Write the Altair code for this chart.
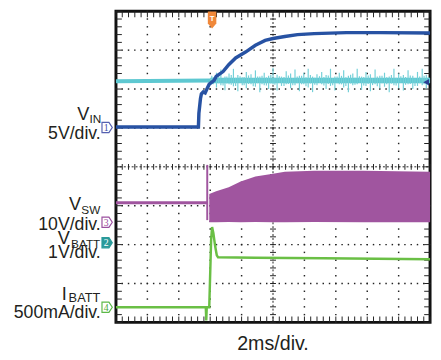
import altair as alt
import numpy as np
import pandas as pd

W, H = 320, 317
XS = alt.Scale(domain=[0, 10], nice=False, zero=False)
YS = alt.Scale(domain=[0, 8], nice=False, zero=False)
FONT = "Liberation Sans"
TXT = "#231f20"

# ---- traces, in screen divisions (x: 2 ms/div, y: divisions above bottom graticule) ----
vin_t = [0.0, 2.625, 2.64, 2.69, 2.72, 2.78, 2.84, 2.91, 2.97, 3.125, 3.19, 3.41, 3.59, 3.81,
         4.125, 4.44, 4.75, 5.0, 5.375, 5.78, 6.31, 7.34, 8.4, 10.0]
vin_v = [5.025, 5.025, 5.375, 5.75, 5.875, 5.925, 5.9, 6.025, 6.125, 6.225, 6.325, 6.45, 6.625, 6.8,
         6.95, 7.125, 7.25, 7.3, 7.35, 7.4, 7.425, 7.45, 7.45, 7.44]

vbatt_t = [0.0, 3.0, 10.0]
vbatt_v = [6.2, 6.22, 6.22]
spike_t = [3.05, 3.2, 3.34, 3.47, 3.6, 3.74, 3.88, 4.02, 4.15, 4.3, 4.44, 4.58, 4.72, 4.86, 5.0,
           5.13, 5.27, 5.42, 5.56, 5.7, 5.84, 5.98, 6.12, 6.26, 6.4, 6.55, 6.69, 6.83, 6.97, 7.11,
           7.25, 7.4, 7.54, 7.68, 7.82, 7.96, 8.1, 8.25, 8.4, 8.55, 8.7, 8.85, 9.0, 9.15, 9.3,
           9.45, 9.6, 9.75, 9.88]
spike_hi = [0.12, 0.2, 0.28, 0.1, 0.18, 0.3, 0.14, 0.08, 0.22, 0.16, 0.26, 0.1, 0.2, 0.12, 0.32,
            0.15, 0.1, 0.24, 0.18, 0.28, 0.12, 0.2, 0.3, 0.1, 0.16, 0.22, 0.14, 0.3, 0.1, 0.2,
            0.26, 0.12, 0.18, 0.3, 0.1, 0.22, 0.16, 0.28, 0.12, 0.2, 0.1, 0.3, 0.18, 0.14, 0.26,
            0.12, 0.22, 0.3, 0.15]
spike_lo = [0.1, 0.18, 0.12, 0.25, 0.1, 0.15, 0.28, 0.12, 0.2, 0.1, 0.16, 0.3, 0.12, 0.22, 0.1,
            0.26, 0.14, 0.1, 0.2, 0.12, 0.28, 0.1, 0.18, 0.3, 0.12, 0.1, 0.22, 0.14, 0.26, 0.1,
            0.18, 0.3, 0.12, 0.1, 0.24, 0.14, 0.28, 0.1, 0.2, 0.16, 0.3, 0.12, 0.2, 0.26, 0.1,
            0.22, 0.14, 0.12, 0.2]
fuzz_t = [3.1, 3.27, 3.41, 3.53, 3.67, 3.81, 3.95, 4.08, 4.22, 4.37, 4.51, 4.65, 4.79, 4.93, 5.06,
          5.2, 5.35, 5.49, 5.63, 5.77, 5.91, 6.05, 6.19, 6.33, 6.48, 6.62, 6.76, 6.9, 7.04, 7.18,
          7.32, 7.47, 7.61, 7.75, 7.89, 8.03, 8.17, 8.32, 8.47, 8.62, 8.77, 8.92, 9.07, 9.22, 9.37,
          9.52, 9.67, 9.81, 9.95]
fuzz_hi = [0.08, 0.12, 0.06, 0.1, 0.14, 0.07, 0.11, 0.09, 0.13, 0.06, 0.1, 0.12, 0.08, 0.15, 0.07,
           0.11, 0.09, 0.13, 0.06, 0.1, 0.12, 0.08, 0.14, 0.07, 0.11, 0.09, 0.13, 0.06, 0.1, 0.12,
           0.08, 0.15, 0.07, 0.11, 0.09, 0.13, 0.06, 0.1, 0.12, 0.08, 0.14, 0.07, 0.11, 0.09, 0.13,
           0.06, 0.1, 0.12, 0.08]
fuzz_lo = [0.1, 0.07, 0.13, 0.08, 0.11, 0.14, 0.06, 0.12, 0.09, 0.15, 0.07, 0.1, 0.13, 0.08, 0.11,
           0.06, 0.14, 0.09, 0.12, 0.07, 0.1, 0.15, 0.08, 0.11, 0.06, 0.13, 0.09, 0.12, 0.07, 0.1,
           0.14, 0.08, 0.11, 0.06, 0.13, 0.09, 0.12, 0.15, 0.07, 0.1, 0.08, 0.13, 0.06, 0.11, 0.09,
           0.14, 0.07, 0.1, 0.12]

vsw_t = [0.0, 2.906]
vsw_v = [3.075, 3.075]
vsw_edge_t = [2.906]
vsw_edge_lo = [2.63]
vsw_edge_hi = [4.05]
sw_t = [2.97, 3.19, 3.59, 3.97, 4.44, 5.0, 5.375, 6.31, 7.875, 10.0]
sw_top = [3.3, 3.375, 3.475, 3.625, 3.75, 3.825, 3.875, 3.9, 3.9, 3.875]
sw_bot = [2.575, 2.575, 2.58, 2.575, 2.58, 2.575, 2.575, 2.58, 2.575, 2.575]

ibatt_t = [0.0, 2.86, 2.875, 2.89, 2.97, 3.03, 3.06, 3.1, 3.16, 3.21, 3.25, 4.44, 6.6, 10.0]
ibatt_v = [0.39, 0.39, 0.05, 0.39, 0.39, 2.125, 2.45, 2.3, 1.95, 1.725, 1.675, 1.66, 1.65, 1.625]

ch_names = ["1", "2", "3", "4"]
ch_level = [5.01, 2.05, 2.575, 0.39]
ch_color = ["#5560b0", "#2a9a9a", "#9b4f9f", "#5cb848"]
ch_fill = ["white", "#2a9a9a", "white", "white"]
ch_text = ["#3f4fa8", "white", "#9b4f9f", "#4aa838"]
trig_t = [3.06]
trig_level = [6.175]

C_BLUE, C_CYAN, C_PURP, C_GREEN = "#2752a3", "#5ec8d1", "#a0559f", "#6abf45"


def X(f="t"):
    return alt.X(f"{f}:Q", scale=XS, axis=None)


def Y(f="v"):
    return alt.Y(f"{f}:Q", scale=YS, axis=None)


layers = []

# ---- graticule ----
minor_x = np.round(np.arange(0, 10.0001, 0.2), 2)
minor_y = np.round(np.arange(0, 8.0001, 0.2), 2)
dots = [(gx, yy) for gx in [1, 2, 3, 4, 6, 7, 8, 9] for yy in minor_y] + \
       [(xx, gy) for gy in [1, 2, 3, 5, 6, 7] for xx in minor_x]
dots_df = pd.DataFrame(dots, columns=["t", "v"])
layers.append(alt.Chart(dots_df).mark_square(size=2.2, color="#222", opacity=1).encode(x=X(), y=Y()))

layers.append(alt.Chart(pd.DataFrame({"t": [5], "v": [0], "v2": [8]})).mark_rule(
    color="#222", strokeWidth=1, strokeDash=[2, 2]).encode(x=X(), y=Y(), y2="v2:Q"))
layers.append(alt.Chart(pd.DataFrame({"t": [0], "t2": [10], "v": [4]})).mark_rule(
    color="#222", strokeWidth=1, strokeDash=[2, 2]).encode(x=X(), x2="t2:Q", y=Y()))

hx = pd.DataFrame({"t": minor_x})
vy = pd.DataFrame({"v": minor_y})
tick_kw = dict(thickness=1, color="#222", opacity=1)
# ticks on the centre lines
layers.append(alt.Chart(hx).mark_tick(orient="vertical", size=6, **tick_kw).encode(
    x=X(), y=alt.Y("c:Q", scale=YS, axis=None)).transform_calculate(c="4"))
layers.append(alt.Chart(vy).mark_tick(orient="horizontal", size=6, **tick_kw).encode(
    y=Y(), x=alt.X("c:Q", scale=XS, axis=None)).transform_calculate(c="5"))
# ticks on the frame edges
layers.append(alt.Chart(hx).mark_tick(orient="vertical", size=6, yOffset=3, **tick_kw).encode(
    x=X(), y=alt.Y("c:Q", scale=YS, axis=None)).transform_calculate(c="8"))
layers.append(alt.Chart(hx).mark_tick(orient="vertical", size=6, yOffset=-3, **tick_kw).encode(
    x=X(), y=alt.Y("c:Q", scale=YS, axis=None)).transform_calculate(c="0"))
layers.append(alt.Chart(vy).mark_tick(orient="horizontal", size=6, xOffset=3, **tick_kw).encode(
    y=Y(), x=alt.X("c:Q", scale=XS, axis=None)).transform_calculate(c="0"))
layers.append(alt.Chart(vy).mark_tick(orient="horizontal", size=6, xOffset=-3, **tick_kw).encode(
    y=Y(), x=alt.X("c:Q", scale=XS, axis=None)).transform_calculate(c="10"))

# ---- traces ----
cy = pd.DataFrame({"t": vbatt_t, "v": vbatt_v})
layers.append(alt.Chart(cy.iloc[:2]).mark_line(color=C_CYAN, strokeWidth=4).encode(x=X(), y=Y()))
layers.append(alt.Chart(cy.iloc[1:]).mark_line(color=C_CYAN, strokeWidth=5.5).encode(x=X(), y=Y()))
spk = pd.DataFrame(list(zip(spike_t + fuzz_t, spike_hi + fuzz_hi, spike_lo + fuzz_lo)),
                   columns=["t", "hi", "lo"])
spk["top"] = vbatt_v[-1] + spk["hi"]
spk["bot"] = vbatt_v[-1] - spk["lo"]
layers.append(alt.Chart(spk).mark_rule(color="#74d0d8", strokeWidth=1.2).encode(
    x=X(), y=Y("top"), y2="bot:Q"))

layers.append(alt.Chart(pd.DataFrame({"t": vin_t, "v": vin_v})).mark_line(
    color=C_BLUE, strokeWidth=3.5).encode(x=X(), y=Y()))

layers.append(alt.Chart(pd.DataFrame({"t": vsw_t, "v": vsw_v})).mark_line(
    color=C_PURP, strokeWidth=3).encode(x=X(), y=Y()))
layers.append(alt.Chart(pd.DataFrame({"t": vsw_edge_t, "lo": vsw_edge_lo, "hi": vsw_edge_hi})).mark_rule(
    color=C_PURP, strokeWidth=2).encode(x=X(), y=Y("hi"), y2="lo:Q"))
layers.append(alt.Chart(pd.DataFrame({"t": sw_t, "top": sw_top, "bot": sw_bot})).mark_area(
    color=C_PURP, opacity=1).encode(x=X(), y=Y("top"), y2="bot:Q"))

layers.append(alt.Chart(pd.DataFrame({"t": ibatt_t, "v": ibatt_v})).mark_line(
    color=C_GREEN, strokeWidth=2.5).encode(x=X(), y=Y()))

# ---- channel markers ----
chd = pd.DataFrame({"name": ch_names, "v": ch_level, "col": ch_color, "fill": ch_fill, "tc": ch_text})
layers.append(alt.Chart(chd).mark_point(
    shape="M-1,-1H0.35L1,0L0.35,1H-1Z", size=110, filled=True, strokeWidth=1.2, opacity=1).encode(
    x=alt.value(-9), y=Y(), fill=alt.Color("fill:N", scale=None), stroke=alt.Color("col:N", scale=None)))
layers.append(alt.Chart(chd).mark_text(font="Liberation Serif", fontSize=10, baseline="middle",
                                       align="center", dx=-1, dy=0.5).encode(
    x=alt.value(-9), y=Y(), text="name:N", color=alt.Color("tc:N", scale=None)))

# trigger position marker and trigger level marker
trig = pd.DataFrame({"t": trig_t})
layers.append(alt.Chart(trig).mark_point(shape="M-0.5,-1H0.5V0.4L0,1L-0.5,0.4Z", size=300, filled=True,
                                         color="#f0883a", opacity=1).encode(x=X(), y=alt.value(9)))
layers.append(alt.Chart(trig).mark_text(text="T", color="white", fontSize=8, fontWeight="bold",
                                        baseline="middle", font=FONT).encode(x=X(), y=alt.value(8)))
layers.append(alt.Chart(pd.DataFrame({"v": trig_level})).mark_point(
    shape="triangle-left", size=45, filled=True, color="#2b3f94", opacity=1).encode(
    x=alt.value(W - 4), y=Y()))


# ---- labels ----
def ry(ref):
    return (ref - 5) * H / 320.0


def label(text, right, base, size):
    return alt.Chart(pd.DataFrame({"s": [text]})).mark_text(
        font=FONT, fontSize=size, align="right", baseline="alphabetic", color=TXT).encode(
        text="s:N", x=alt.value(right - 118), y=alt.value(ry(base)))


label_specs = [
    ("V", 91, 116.5, 18.5), ("IN", 103, 120, 12), ("5V/div.", 102.5, 136.5, 18),
    ("V", 82.5, 209.5, 18.5), ("SW", 102, 214, 12), ("10V/div.", 102.5, 230, 18),
    ("V", 71, 244.5, 18.5), ("BATT", 102, 248.5, 12), ("1V/div.", 102.5, 258.5, 18),
    ("I", 68, 302, 18.5), ("BATT", 102, 304, 13), ("500mA/div.", 102.5, 320, 18),
]
for s, r, b, f in label_specs:
    layers.append(label(s, r, b, f))

layers.append(alt.Chart(pd.DataFrame({"s": ["2ms/div."]})).mark_text(
    font=FONT, fontSize=20, align="center", baseline="alphabetic", color=TXT).encode(
    text="s:N", x=alt.value(W / 2), y=alt.value(353 - 8)))

chart = alt.layer(*layers).properties(
    width=W, height=H,
    padding={"left": 110, "top": 0, "right": 3, "bottom": 35},
    autosize=alt.AutoSizeParams(type="none"),
).configure_view(stroke="#111", strokeWidth=3)

chart.save("out.html", embed_options={"renderer": "svg", "actions": False})
